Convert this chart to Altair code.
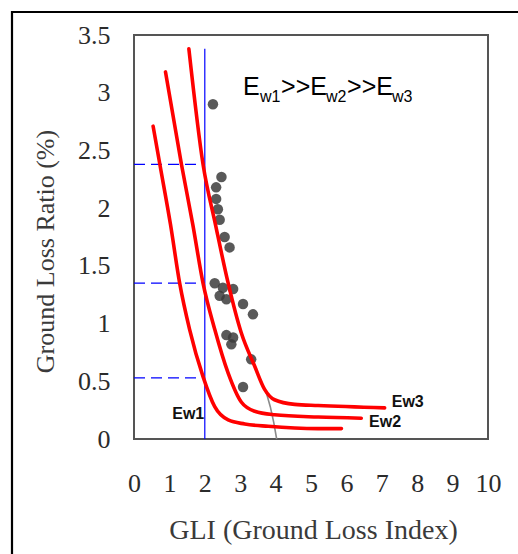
import altair as alt
import pandas as pd

# Red fitted curves (GLI vs ground loss ratio) for three wall stiffnesses
ew1_x = [0.54, 0.73, 1.03, 1.29, 1.57, 1.95, 2.28, 2.66, 3.13, 3.79, 5.20, 5.86]
ew1_y = [2.71, 2.38, 1.86, 1.35, 0.95, 0.54, 0.28, 0.165, 0.13, 0.11, 0.09, 0.09]
ew2_x = [0.89, 1.34, 1.66, 1.95, 2.28, 2.66, 3.03, 3.41, 3.97, 5.20, 6.42]
ew2_y = [3.18, 2.38, 1.86, 1.35, 0.95, 0.57, 0.32, 0.24, 0.21, 0.19, 0.18]
ew3_x = [1.55, 1.95, 2.30, 2.66, 3.03, 3.41, 3.69, 3.97, 4.54, 5.20, 7.08]
ew3_y = [3.38, 2.38, 1.86, 1.35, 0.92, 0.63, 0.43, 0.34, 0.30, 0.29, 0.27]

# Measured points
obs_x = [2.23, 2.47, 2.32, 2.32, 2.37, 2.42, 2.56, 2.70, 2.28, 2.51, 2.80,
         2.42, 2.61, 3.08, 3.36, 2.61, 2.80, 2.75, 3.31, 3.08]
obs_y = [2.90, 2.27, 2.18, 2.08, 1.99, 1.90, 1.75, 1.66, 1.35, 1.31, 1.30,
         1.24, 1.21, 1.17, 1.08, 0.90, 0.88, 0.82, 0.69, 0.45]

# Faint original trend line
base_x = [3.72, 3.85, 3.95, 4.03]
base_y = [0.42, 0.28, 0.14, 0.00]

# Reference lines at GLI = 2
gli_ref = 2.0
gli_top = 3.38
ratio_refs = [2.38, 1.35, 0.53]

# Curve end labels
label_text = ["Ew1", "Ew2", "Ew3"]
label_x = [1.08, 6.64, 7.28]
label_y = [0.22, 0.15, 0.32]

x_ticks = list(range(0, 11))
y_ticks = [0, 0.5, 1, 1.5, 2, 2.5, 3, 3.5]

curves = pd.concat([
    pd.DataFrame({"gli": ew1_x, "ratio": ew1_y, "curve": "Ew1"}),
    pd.DataFrame({"gli": ew2_x, "ratio": ew2_y, "curve": "Ew2"}),
    pd.DataFrame({"gli": ew3_x, "ratio": ew3_y, "curve": "Ew3"}),
])
obs = pd.DataFrame({"gli": obs_x, "ratio": obs_y})
base = pd.DataFrame({"gli": base_x, "ratio": base_y})
vref = pd.DataFrame({"gli": [gli_ref], "y0": [0.0], "y1": [gli_top]})
href = pd.DataFrame({"gli": [0.0] * len(ratio_refs), "x1": [gli_ref] * len(ratio_refs),
                     "ratio": ratio_refs})
labels = pd.DataFrame({"gli": label_x, "ratio": label_y, "text": label_text})

x_axis = alt.Axis(values=x_ticks, title="GLI (Ground Loss Index)",
                  labelPadding=31, titleFontSize=28,
                  titleX=179, titleY=91)
y_axis = alt.Axis(values=y_ticks, format="~g", title="Ground Loss Ratio (%)",
                  labelPadding=24, titleFontSize=26,
                  titleX=-89, titleY=216, titleAngle=-90)
X = alt.X("gli:Q", scale=alt.Scale(domain=[0, 10], nice=False), axis=x_axis)
Y = alt.Y("ratio:Q", scale=alt.Scale(domain=[0, 3.5], nice=False), axis=y_axis)

# Outer page border
border = alt.Chart(pd.DataFrame({"k": [0]})).mark_rect(
    filled=False, stroke="black", strokeWidth=2.2
).encode(x=alt.value(-122), x2=alt.value(600), y=alt.value(-23), y2=alt.value(700))

base_line = alt.Chart(base).mark_line(color="#8a8a8a", strokeWidth=1.6).encode(x=X, y=Y)

points = alt.Chart(obs).mark_point(
    filled=True, shape="circle", size=110, color="#3c3c3c", opacity=0.85
).encode(x=X, y=Y)

vrule = alt.Chart(vref).mark_rule(color="#0000ff", strokeWidth=1.2).encode(
    x=X, y=alt.Y("y0:Q", scale=alt.Scale(domain=[0, 3.5], nice=False), axis=y_axis),
    y2="y1:Q")
hrules = alt.Chart(href).mark_rule(color="#0000ff", strokeWidth=1.2,
                                   strokeDash=[11, 6]).encode(
    x=X, x2="x1:Q", y=Y)

lines = alt.Chart(curves).mark_line(
    strokeWidth=3.6, interpolate="monotone", strokeCap="round"
).encode(
    x=X, y=Y,
    detail="curve:N",
    color=alt.value("#ff0000"),
)

curve_labels = alt.Chart(labels).mark_text(
    align="left", baseline="middle", font="Liberation Sans", fontSize=16,
    fontWeight="bold", color="#111111"
).encode(x=X, y=Y, text="text:N")

# Stiffness ordering note, built from normal and subscript pieces
note_x = 3.08
note_y = 2.98
note_parts = ["E", "w1", ">>E", "w2", ">>E", "w3"]
note_dx = [0, 17, 38, 83, 104, 149]
note_sub = [False, True, False, True, False, True]
note_df = pd.DataFrame({"gli": [note_x], "ratio": [note_y]})
note_layers = []
for part, dx, sub in zip(note_parts, note_dx, note_sub):
    note_layers.append(
        alt.Chart(note_df).mark_text(
            text=part, align="left", baseline="alphabetic", font="Liberation Sans",
            fontSize=16 if sub else 25, dx=dx, dy=7 if sub else 0, color="#000000"
        ).encode(x=X, y=Y)
    )

chart = alt.layer(
    border, base_line, points, vrule, hrules, lines, curve_labels, *note_layers
).properties(
    width=354, height=404,
    padding={"left": 134, "top": 35, "right": 30, "bottom": 115},
    autosize=alt.AutoSizeParams(type="none"),
).configure(
    background="white",
    view=alt.ViewConfig(stroke="#555555", strokeWidth=2),
).configure_axis(
    ticks=False, domain=False, grid=False,
    labelOverlap=False, labelBound=False, labelFlush=False,
    labelFont="Liberation Serif", labelFontSize=26, labelColor="#2b2b2b",
    titleFont="Liberation Serif", titleFontWeight="normal", titleColor="#3a3a3a",
    titleBaseline="middle", titleAlign="center",
)

chart.save("out.html", embed_options={"renderer": "svg", "actions": False})
